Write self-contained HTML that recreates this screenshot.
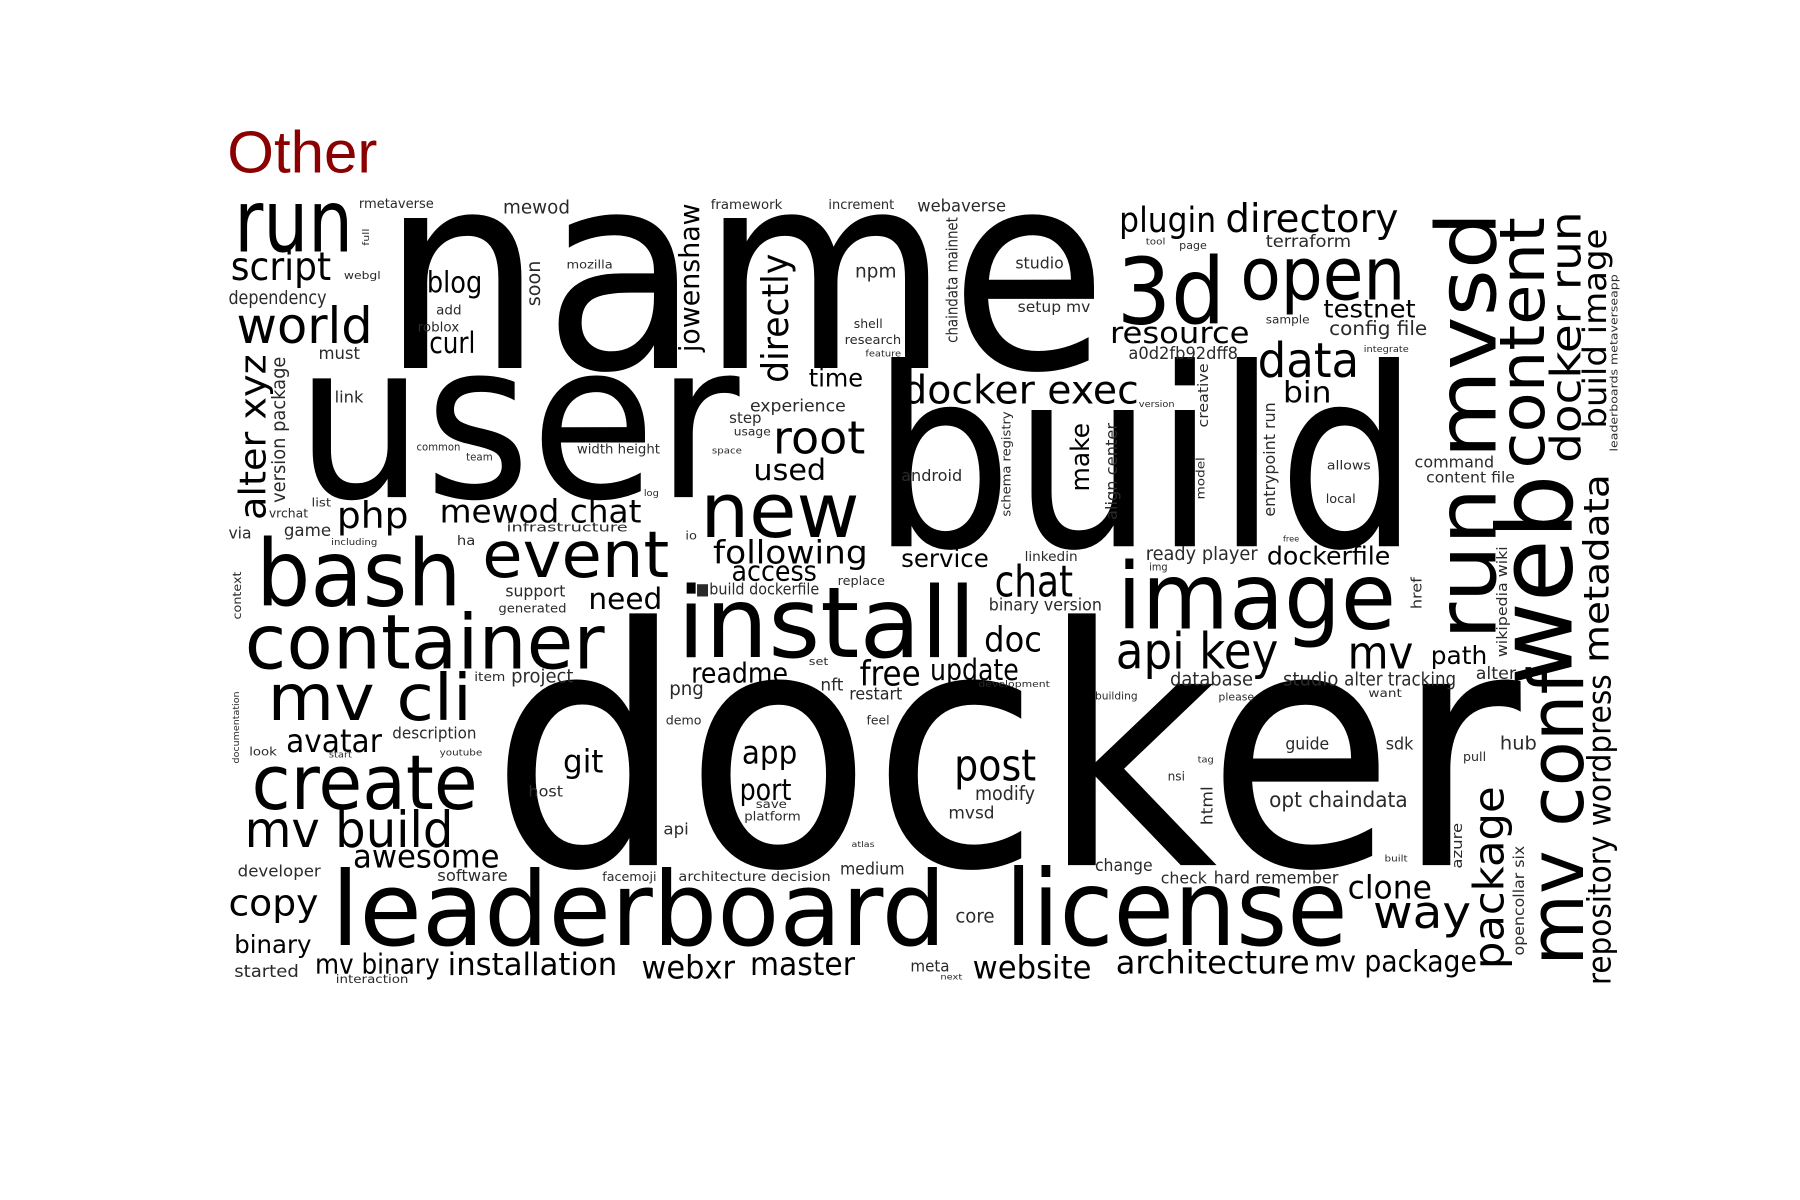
<!DOCTYPE html>
<html><head><meta charset="utf-8"><style>
html,body{margin:0;padding:0;background:#fff;width:1800px;height:1200px;overflow:hidden}
svg text{font-family:"DejaVu Sans","Liberation Sans",sans-serif}
</style></head><body>
<svg id="cloud" width="1800" height="1200" viewBox="0 0 1800 1200" xmlns="http://www.w3.org/2000/svg">
<rect width="1800" height="1200" fill="#fff"/>
<g id="root" transform="scale(1.1538,1.1429)">
<text x="197" y="151" font-size="52" fill="#8b0000" style="font-family:'Liberation Sans',sans-serif">Other</text>
</g>
</svg>
<script>
// horizontal words: [word, x1, x2, baseline, size]
const hWords = [
["name",330,960,322,240],["user",256,641,435,190],["build",755,1230,478,218],["docker",425,1318,757,290],
["run",203,306,220,76],["script",200,287,245,34],["dependency",198,283,266,16],["world",205,323,300,44],
["must",276,312,314,15],["blog",370,418,256,26],["add",378,400,275,12],["roblox",362,398,290,12],
["curl",372,412,309,26],["rmetaverse",311,376,182,12],["mewod",436,494,187,16],["framework",616,678,183,12],
["increment",718,775,183,12],["webaverse",795,872,185,15],["link",290,315,352,14],["mozilla",491,531,235,10],
["webgl",298,330,244,9],["npm",741,777,243,16],["studio",880,922,235,14],["setup mv",882,945,273,13],
["shell",740,765,287,11],["research",732,781,301,11],["feature",750,781,312,8],["plugin",970,1054,203,30],
["directory",1062,1212,203,34],["terraform",1097,1171,216,15],["tool",993,1010,214,8],["page",1022,1046,218,9],
["3d",968,1062,283,80],["open",1075,1218,262,64],["testnet",1147,1227,278,22],["sample",1097,1135,283,10],
["config file",1152,1237,293,17],["resource",962,1083,300,26],["a0d2fb92dff8",978,1073,314,15],["integrate",1182,1221,308,8],
["data",1090,1178,330,42],["bin",1112,1154,352,26],["docker exec",782,987,353,34],["time",701,748,338,22],
["experience",650,733,360,15],["step",632,660,370,13],["usage",636,668,381,10],["root",670,750,397,40],
["used",653,716,420,26],["space",617,643,397,8],["width height",500,572,397,12],["common",361,399,394,9],
["team",404,427,403,9],["php",292,354,462,32],["mewod chat",381,556,457,28],["log",558,571,434,8],
["vrchat",233,267,453,11],["list",270,287,443,10],["game",246,287,469,15],["via",198,218,471,14],
["including",287,327,477,8],["ha",396,412,477,12],["infrastructure",439,544,465,11],["io",594,604,472,10],
["new",607,745,470,66],["android",781,834,421,14],["allows",1150,1188,411,11],["command",1226,1295,409,14],
["content file",1236,1313,422,13],["local",1149,1175,440,11],["version",987,1018,356,8],["bash",222,400,530,80],
["event",418,580,505,56],["following",618,752,493,28],["access",634,708,508,24],["service",781,857,496,22],
["linkedin",888,934,491,12],["ready player",993,1090,490,16],["img",996,1012,499,9],["dockerfile",1098,1205,494,22],
["support",438,490,522,14],["generated",432,491,536,11],["need",510,574,533,26],["■build dockerfile",603,710,520,14],
["replace",726,767,512,11],["install",587,846,575,86],["chat",862,930,522,38],["binary version",857,955,534,15],
["image",968,1210,550,80],["container",212,524,585,66],["doc",853,903,570,30],["api key",967,1108,585,44],
["mv",1168,1225,585,40],["path",1240,1289,581,22],["readme",599,683,597,24],["set",701,718,582,9],
["free",745,798,600,30],["update",806,883,595,26],["nft",711,731,604,15],["development",848,910,601,8],
["item",411,438,596,11],["project",443,497,597,16],["mv cli",232,409,630,56],["png",580,610,608,16],
["restart",736,782,612,15],["database",1014,1086,600,16],["studio",1112,1160,600,16],["alter tracking",1165,1262,600,16],
["alter",1279,1314,594,15],["want",1186,1215,610,10],["please",1056,1087,613,9],["building",949,986,612,9],
["demo",577,608,634,11],["feel",751,771,634,11],["avatar",248,331,658,28],["description",340,413,646,14],
["look",216,240,661,10],["start",285,305,663,8],["youtube",381,418,661,8],["app",643,691,668,28],
["git",488,523,676,28],["post",827,898,683,38],["guide",1114,1152,656,15],["sdk",1201,1225,656,15],
["hub",1300,1332,656,16],["pull",1268,1288,666,11],["tag",1038,1052,667,8],["nsi",1012,1027,683,11],
["create",218,414,708,66],["host",458,488,697,13],["port",641,686,700,26],["save",655,682,707,10],
["platform",645,694,718,11],["modify",845,897,700,17],["mvsd",822,862,716,15],["opt chaindata",1100,1220,706,19],
["api",575,597,730,14],["mv build",212,393,741,44],["awesome",306,433,759,28],["atlas",738,758,741,7],
["built",1200,1220,754,8],["change",949,999,762,15],["developer",206,278,767,14],["software",379,440,771,14],
["facemoji",522,569,771,11],["architecture decision",588,720,771,12],["medium",728,784,765,15],["check",1006,1046,773,14],
["hard remember",1052,1160,773,15],["clone",1168,1241,786,28],["copy",198,276,801,32],["leaderboard",287,820,827,90],
["license",871,1168,827,92],["core",828,862,807,16],["way",1190,1275,812,40],["binary",203,270,834,22],
["started",203,259,855,15],["mv binary",273,381,852,24],["interaction",291,354,860,10],["installation",388,535,853,27],
["webxr",556,637,856,28],["master",650,741,853,28],["meta",789,823,850,14],["next",815,834,857,7],
["website",843,946,856,28],["architecture",967,1135,852,28],["mv package",1139,1280,850,26],["free",1112,1126,474,7]
];
// vertical words: [word, baselineX, yBottom, yTop, size]
const vWords = [
["alter xyz",230,455,310,32],["version package",247,440,312,16],["soon",468,268,228,16],["jowenshaw",606,308,178,24],
["directly",683,335,222,32],["chaindata mainnet",830,300,190,14],["full",320,215,200,8],["make",944,430,370,22],
["schema registry",876,452,360,11],["align center",968,455,370,14],["creative",1047,374,318,12],["model",1044,437,400,10],
["entrypoint run",1105,452,352,14],["run mvsd",1296,560,185,72],["content",1338,410,190,54],["docker run",1370,405,185,36],
["build image",1392,375,200,28],["leaderboards metaverseapp",1402,395,240,9],["web",1362,600,415,90],["mv conf",1372,845,585,66],
["metadata",1394,580,415,30],["repository wordpress",1396,862,590,28],["package",1303,848,688,36],["opencollar six",1321,836,740,13],
["azure",1267,760,720,12],["href",1232,533,505,12],["wikipedia wiki",1306,575,478,12],["html",1051,722,688,14],
["context",209,542,500,10],["documentation",207,668,605,8]
];
const NS = "http://www.w3.org/2000/svg";
const root = document.getElementById("root");
function slug(w){return "word-" + w.replace(/[^a-z0-9]+/gi,"-").toLowerCase();}
hWords.forEach(function(d){
  const t = document.createElementNS(NS,"text");
  t.setAttribute("x", d[1]);
  t.setAttribute("y", d[3]);
  t.setAttribute("font-size", d[4]);
  t.setAttribute("textLength", d[2]-d[1]);
  t.setAttribute("lengthAdjust", "spacingAndGlyphs");
  t.setAttribute("fill", d[4] < 20 ? "#2a2a2a" : "#000");
  t.textContent = d[0];
  
  
  root.appendChild(t);
});
vWords.forEach(function(d){
  const t = document.createElementNS(NS,"text");
  t.setAttribute("transform", "translate(" + d[1] + "," + d[2] + ") rotate(-90)");
  t.setAttribute("x", 0);
  t.setAttribute("y", 0);
  t.setAttribute("font-size", d[4]);
  t.setAttribute("textLength", d[2]-d[3]);
  t.setAttribute("lengthAdjust", "spacingAndGlyphs");
  t.setAttribute("fill", d[4] < 20 ? "#2a2a2a" : "#000");
  t.textContent = d[0];
  
  
  root.appendChild(t);
});
</script>
</body></html>
